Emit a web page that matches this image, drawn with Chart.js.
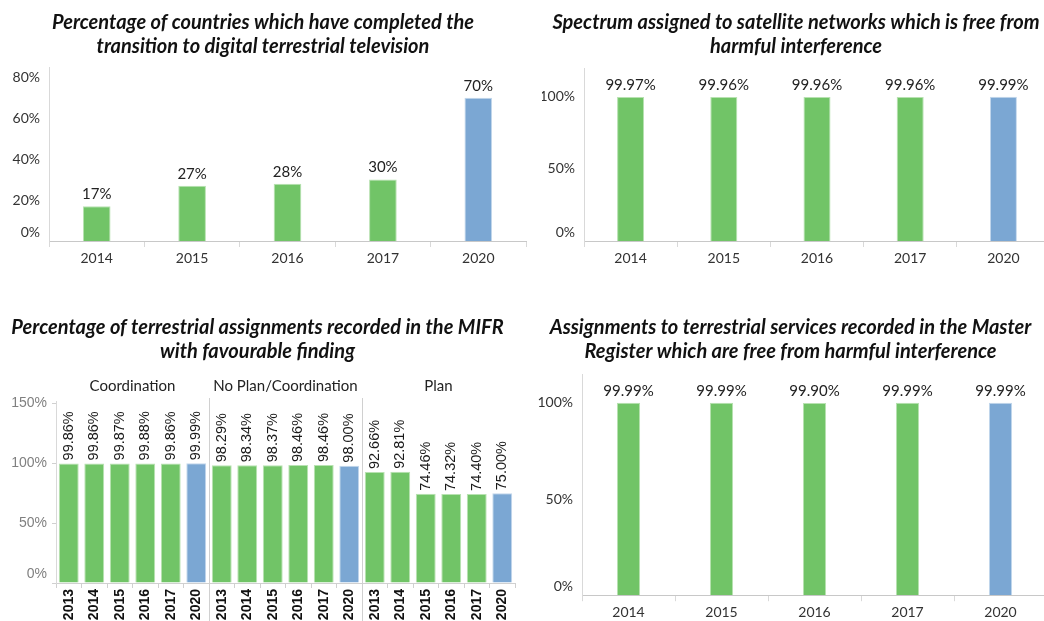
<!DOCTYPE html>
<html><head><meta charset="utf-8">
<script src="https://cdn.jsdelivr.net/npm/chart.js@4/dist/chart.umd.min.js"></script>
<style>
html,body{margin:0;padding:0;background:#fff;overflow:hidden;width:1044px;height:621px;}
.box{position:absolute;}
</style></head><body>
<div class="box" style="left:0;top:0;width:536px;height:270px"><canvas id="c1"></canvas></div>
<div class="box" style="left:542px;top:0;width:508px;height:270px"><canvas id="c2"></canvas></div>
<div class="box" style="left:0;top:300px;width:536px;height:321px"><canvas id="c3"></canvas></div>
<div class="box" style="left:534px;top:300px;width:514px;height:321px"><canvas id="c4"></canvas></div>
<script>
// ---- Data ----
const dttTitle = ['Percentage of countries which have completed the','transition to digital terrestrial television'];
const dttYears = ['2014','2015','2016','2017','2020'];
const dttValues = [17, 27, 28, 30, 70];
const dttTicks = [0, 20, 40, 60, 80];

const satTitle = ['Spectrum assigned to satellite networks which is free from','harmful interference'];
const satYears = ['2014','2015','2016','2017','2020'];
const satValues = [99.97, 99.96, 99.96, 99.96, 99.99];
const satTicks = [0, 50, 100];

const mifrTitle = ['Percentage of terrestrial assignments recorded in the MIFR','with favourable finding'];
const mifrGroups = ['Coordination','No Plan/Coordination','Plan'];
const mifrYears = ['2013','2014','2015','2016','2017','2020'];
const mifrCoordination = [99.86, 99.86, 99.87, 99.88, 99.86, 99.99];
const mifrNoPlan = [98.29, 98.34, 98.37, 98.46, 98.46, 98.00];
const mifrPlan = [92.66, 92.81, 74.46, 74.32, 74.40, 75.00];
const mifrTicks = [0, 50, 100, 150];

const terTitle = ['Assignments to terrestrial services recorded in the Master','Register which are free from harmful interference'];
const terYears = ['2014','2015','2016','2017','2020'];
const terValues = [99.99, 99.99, 99.90, 99.99, 99.99];
const terTicks = [0, 50, 100];

// ---- Styles ----
const GREEN = '#71c467', BLUE = '#7ba7d3';
const GREEN_EDGE = '#b8e2b1', BLUE_EDGE = '#c3d7ec';
const LATO = 'Lato';

const valueLabels = {
  id: 'valueLabels',
  afterDatasetsDraw(chart, args, opts) {
    const ctx = chart.ctx, ds = chart.data.datasets[0], meta = chart.getDatasetMeta(0);
    ctx.save();
    ctx.fillStyle = opts.color || '#222';
    ctx.font = opts.font;
    meta.data.forEach((bar, i) => {
      const txt = ds.data[i].toFixed(opts.decimals) + '%';
      if (opts.rotate) {
        ctx.save();
        ctx.translate(bar.x, bar.y - opts.offset);
        ctx.rotate(-Math.PI / 2);
        ctx.textAlign = 'left'; ctx.textBaseline = 'middle';
        ctx.fillText(txt, 0, 0);
        ctx.restore();
      } else {
        ctx.textAlign = 'center'; ctx.textBaseline = 'middle';
        ctx.fillText(txt, bar.x, bar.y - opts.offset);
      }
    });
    ctx.restore();
  }
};

const groupHeaders = {
  id: 'groupHeaders',
  afterDraw(chart, args, opts) {
    if (!opts || !opts.names) return;
    const ctx = chart.ctx, x = chart.scales.x, area = chart.chartArea;
    const n = chart.data.labels.length, w = (x.right - x.left) / n, size = opts.size;
    ctx.save();
    ctx.strokeStyle = '#d0d0d0'; ctx.lineWidth = 1;
    opts.names.forEach((name, g) => {
      const left = x.left + g * size * w;
      if (g > 0) {
        const px = Math.round(left) + 0.5;
        ctx.beginPath(); ctx.moveTo(px, area.top - 3); ctx.lineTo(px, chart.height); ctx.stroke();
      }
      ctx.fillStyle = '#222';
      ctx.font = opts.font;
      ctx.textAlign = 'center'; ctx.textBaseline = 'middle';
      ctx.fillText(name, left + size * w / 2, area.top + opts.dy);
    });
    ctx.restore();
  }
};

function colorsFor(labels) { return labels.map(l => l === '2020' ? BLUE : GREEN); }
function edgesFor(labels) { return labels.map(l => l === '2020' ? BLUE_EDGE : GREEN_EDGE); }
function pctLabel(v) { return v === 0 ? ['0%', ''] : v + '%'; }

function makeChart(id, o) {
  return new Chart(document.getElementById(id), {
    type: 'bar',
    data: {
      labels: o.labels,
      datasets: [{
        data: o.values,
        backgroundColor: colorsFor(o.labels),
        borderColor: edgesFor(o.labels),
        borderWidth: 1,
        barPercentage: o.barPct,
        categoryPercentage: 1
      }]
    },
    plugins: [valueLabels, groupHeaders],
    options: {
      responsive: true, maintainAspectRatio: false, animation: false,
      layout: { padding: { left: 0, right: o.padRight, top: 0, bottom: 0 } },
      plugins: {
        legend: { display: false }, tooltip: { enabled: false },
        title: {
          display: true, text: o.title, color: '#111',
          font: { family: LATO, size: 20, weight: 'bold', style: 'italic', lineHeight: 1.2 },
          padding: { top: o.titleTop, bottom: o.titleBottom }
        },
        valueLabels: o.valueLabels,
        groupHeaders: o.groups || {}
      },
      scales: {
        x: o.xScale,
        y: {
          min: 0, max: o.max,
          afterBuildTicks(s) { s.ticks = o.ticks.map(v => ({ value: v })); },
          grid: o.yGrid || { display: false, drawTicks: false },
          border: { display: true, color: '#d9d9d9' },
          ticks: { callback: pctLabel, font: o.yFont || { family: LATO, size: 14 }, color: o.yColor || '#333', padding: o.yPad || 9 },
          afterFit(s) { s.width = o.yWidth; }
        }
      }
    }
  });
}

function simpleX(h) {
  return {
    grid: { display: true, drawOnChartArea: false, drawTicks: true, tickLength: 6, color: '#d9d9d9', offset: true },
    border: { display: true, color: '#c8c8c8', dash: [2, 2] },
    ticks: { font: { family: LATO, size: 14 }, color: '#333', padding: 3, maxRotation: 0, autoSkip: false },
    afterFit(s) { s.height = h; }
  };
}

makeChart('c1', {
  labels: dttYears, values: dttValues, title: dttTitle, ticks: dttTicks, max: 85,
  barPct: 0.29, padRight: 10, titleTop: 11, titleBottom: 8, yWidth: 49,
  valueLabels: { font: '15px Lato', decimals: 0, offset: 12, color: '#222' },
  xScale: simpleX(29)
});

makeChart('c2', {
  labels: satYears, values: satValues, title: satTitle, ticks: satTicks, max: 120,
  barPct: 0.29, padRight: 0, titleTop: 11, titleBottom: 9, yWidth: 42,
  valueLabels: { font: '15px Lato', decimals: 2, offset: 12, color: '#222' },
  xScale: simpleX(29)
});

const mifrLabels = [].concat(mifrYears, mifrYears, mifrYears);
const mifrValues = [].concat(mifrCoordination, mifrNoPlan, mifrPlan);
makeChart('c3', {
  labels: mifrLabels, values: mifrValues, title: mifrTitle, ticks: mifrTicks, max: 152,
  barPct: 0.78, padRight: 21, titleTop: 16, titleBottom: 37, yWidth: 56,
  yGrid: { display: true, drawOnChartArea: false, drawTicks: true, tickLength: 4, color: '#d0d0d0' },
  yFont: { family: 'Liberation Sans', size: 14 }, yColor: '#808080', yPad: 5,
  valueLabels: { font: '14.5px "Liberation Sans"', decimals: 2, offset: 3, rotate: true, color: '#1a1a1a' },
  groups: { names: mifrGroups, size: mifrYears.length, font: '15px Lato', dy: -15 },
  xScale: {
    grid: { display: true, drawOnChartArea: false, drawTicks: true, tickLength: 5, color: '#d0d0d0', offset: true },
    border: { display: true, color: '#d0d0d0' },
    ticks: { font: { family: 'Liberation Sans', size: 14, weight: 'bold' }, color: '#111', padding: 1, maxRotation: 90, minRotation: 90, autoSkip: false },
    afterFit(s) { s.height = 38; }
  }
});

makeChart('c4', {
  labels: terYears, values: terValues, title: terTitle, ticks: terTicks, max: 115,
  barPct: 0.25, padRight: 1, titleTop: 16, titleBottom: 10, yWidth: 48,
  valueLabels: { font: '15px Lato', decimals: 2, offset: 12, color: '#222' },
  xScale: simpleX(22)
});
</script>
</body></html>
